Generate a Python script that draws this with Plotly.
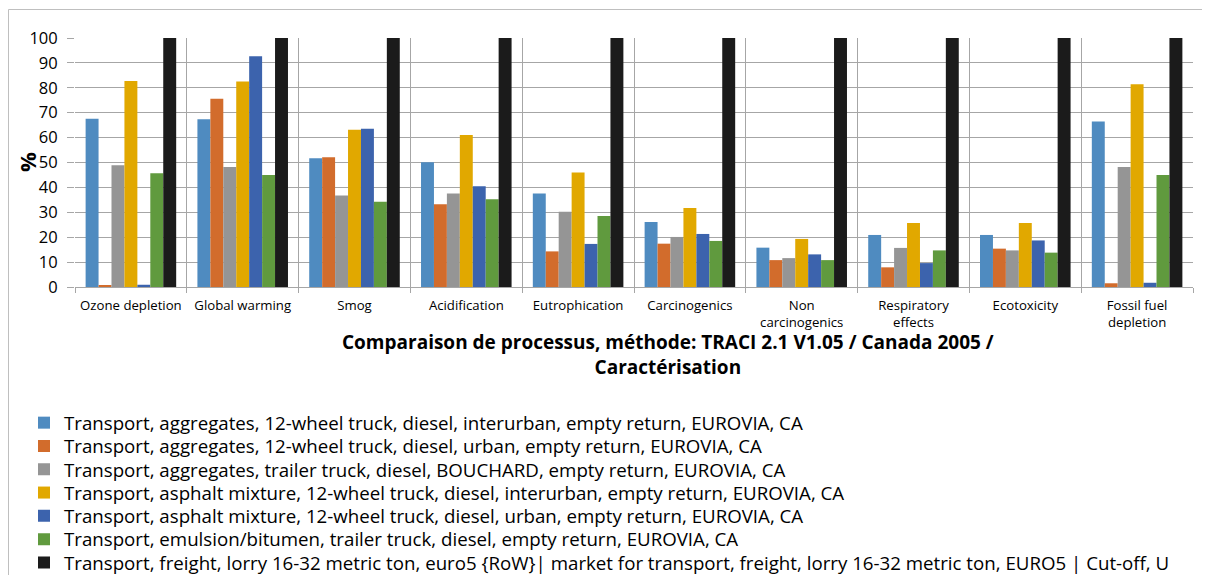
import plotly.graph_objects as go

categories = ["Ozone depletion", "Global warming", "Smog", "Acidification", "Eutrophication",
              "Carcinogenics", "Non<br>carcinogenics", "Respiratory<br>effects", "Ecotoxicity",
              "Fossil fuel<br>depletion"]

series_names = [
    "Transport, aggregates, 12-wheel truck, diesel, interurban, empty return, EUROVIA, CA",
    "Transport, aggregates, 12-wheel truck, diesel, urban, empty return, EUROVIA, CA",
    "Transport, aggregates, trailer truck, diesel, BOUCHARD, empty return, EUROVIA, CA",
    "Transport, asphalt mixture, 12-wheel truck, diesel, interurban, empty return, EUROVIA, CA",
    "Transport, asphalt mixture, 12-wheel truck, diesel, urban, empty return, EUROVIA, CA",
    "Transport, emulsion/bitumen, trailer truck, diesel, empty return, EUROVIA, CA",
    "Transport, freight, lorry 16-32 metric ton, euro5 {RoW}| market for transport, freight, lorry 16-32 metric ton, EURO5 | Cut-off, U",
]

agg_interurban = [67.6, 67.4, 51.7, 50.1, 37.6, 26.1, 15.8, 20.9, 20.9, 66.5]
agg_urban = [0.8, 75.6, 52.1, 33.2, 14.3, 17.4, 10.8, 7.9, 15.4, 1.5]
agg_trailer = [48.9, 48.2, 36.7, 37.6, 30.2, 20.1, 11.6, 15.7, 14.7, 48.2]
asph_interurban = [82.7, 82.5, 63.2, 61.0, 46.0, 31.7, 19.3, 25.7, 25.7, 81.4]
asph_urban = [0.9, 92.7, 63.6, 40.5, 17.3, 21.3, 13.1, 9.6, 18.7, 1.7]
emulsion = [45.7, 45.0, 34.2, 35.2, 28.5, 18.5, 10.8, 14.7, 13.8, 45.0]
freight = [100, 100, 100, 100, 100, 100, 100, 100, 100, 100]

series_values = [agg_interurban, agg_urban, agg_trailer, asph_interurban, asph_urban, emulsion, freight]
colors = ["#4F8BC0", "#D26C2C", "#959595", "#E1A800", "#3C63AD", "#609A3E", "#1B1B1B"]

y_ticks = [0, 10, 20, 30, 40, 50, 60, 70, 80, 90, 100]

FONT = "Open Sans"
OFF = 8  # page body margin
W, H = 1210 - 2 * OFF, 583 - 2 * OFF
# plot area in reference pixels
PL, PR, PT, PB = 75, 1193, 38, 287
L, R, T, B = PL - OFF, W - (PR - OFF), PT - OFF, H - (PB - OFF)
pw = W - L - R
ph = H - T - B


def px_x(p):
    return (p - OFF - L) / pw


def px_y(p):
    return (H - B - (p - OFF)) / ph


fig = go.Figure()
legend_layouts = {}
for i, (name, vals, c) in enumerate(zip(series_names, series_values, colors)):
    lg = "legend" if i == 0 else f"legend{i + 1}"
    fig.add_trace(go.Bar(x=categories, y=vals, name=name, legend=lg,
                         marker=dict(color=c, line=dict(width=0))))
    legend_layouts[lg] = dict(
        x=px_x(24), y=px_y(423 + 23.3 * i), xanchor="left", yanchor="middle",
        orientation="v", font=dict(family=FONT, size=18.7, color="#000"),
        itemwidth=30, bgcolor="rgba(0,0,0,0)", borderwidth=0,
    )

GRID = "#A6A6A6"
BORDER = "#BFBFBF"
fig.update_layout(
    width=W, height=H,
    margin=dict(l=L, r=R, t=T, b=B, autoexpand=False),
    paper_bgcolor="white", plot_bgcolor="white",
    barmode="group", bargap=0.19, bargroupgap=0,
    font=dict(family=FONT, color="#000000"),
    showlegend=True,
    xaxis=dict(
        type="category", tickson="boundaries", showgrid=True, gridcolor=GRID, gridwidth=1,
        ticks="outside", ticklen=5, tickcolor=GRID, showline=True, linecolor=GRID,
        tickangle=0, tickfont=dict(family=FONT, size=13.2, color="#000"), ticklabelstandoff=6,
    ),
    yaxis=dict(
        range=[0, 100], tickvals=y_ticks, showgrid=True, gridcolor=GRID, gridwidth=1,
        ticks="outside", ticklen=7, tickcolor=GRID, showline=False, zeroline=False,
        tickfont=dict(family=FONT, size=16.5, color="#000"), ticklabelstandoff=6,
    ),
    annotations=[
        dict(
            text="<b>Comparaison de processus, méthode: TRACI 2.1 V1.05 / Canada 2005 /<br>Caractérisation</b>",
            xref="paper", yref="paper", x=px_x(668), y=px_y(354), xanchor="center", yanchor="middle",
            showarrow=False, font=dict(family=FONT, size=19, color="#000"), align="center",
        ),
        dict(
            text="<b>%</b>", textangle=-90,
            xref="paper", yref="paper", x=px_x(27), y=px_y(162), xanchor="center", yanchor="middle",
            showarrow=False, font=dict(family=FONT, size=22, color="#000"),
        ),
    ],
    shapes=[
        dict(type="line", xref="paper", yref="paper", x0=px_x(8.5), x1=px_x(1202), y0=px_y(9.5), y1=px_y(9.5),
             line=dict(color=BORDER, width=1), layer="below"),
        dict(type="line", xref="paper", yref="paper", x0=px_x(8.5), x1=px_x(8.5), y0=px_y(9.5), y1=px_y(575),
             line=dict(color=BORDER, width=1), layer="below"),
    ],
    **legend_layouts,
)

fig.write_html("out.html")
